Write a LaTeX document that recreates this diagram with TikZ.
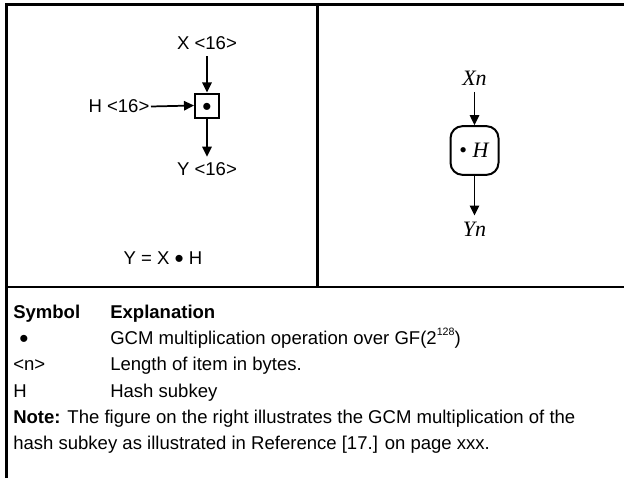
\documentclass[tikz,border=0pt]{standalone}
\usepackage{fontspec}
\setmainfont{Liberation Sans}
\newfontfamily\timesfont{Liberation Serif}
\usetikzlibrary{arrows.meta}

\newcommand\gdot{\raisebox{-2.2pt}{\fontsize{19.5}{19.5}\selectfont •}}
\newcommand\boxdot{\raisebox{-7.6pt}[3pt][3pt]{\fontsize{19.5}{19.5}\selectfont •}}
\newcommand\smallsup[1]{\raisebox{6.5pt}{\fontsize{8}{8}\selectfont #1}}

\tikzset{
  lbl/.style={inner xsep=1pt, inner ysep=4.5pt, font=\fontsize{13.9}{16}\selectfont},
  mathlbl/.style={inner xsep=1pt, inner ysep=4.5pt, font=\timesfont\itshape\fontsize{16.5}{18}\selectfont},
  legend/.style={anchor=base west, inner sep=0pt, font=\fontsize{13.9}{16}\selectfont},
  flow/.style={-{Triangle[length=7.5pt,width=7pt]}, line width=1.3pt},
  frame/.style={line width=1.6pt},
}

\begin{document}
\begin{tikzpicture}[x=0.75pt, y=-0.75pt]
\useasboundingbox (0,0) rectangle (624,478);

% frame
\draw[frame] (6.5,478) -- (6.5,4.5) -- (624,4.5);
\draw[frame] (317.5,4.5) -- (317.5,287);
\draw[frame] (6.5,287) -- (624,287);

% left figure
\node[lbl] (xl) at (207,43.5) {X <16>};
\node[draw, line width=1.5pt, minimum size=18pt, inner sep=0pt] (mulbox) at (207,105.5) {\boxdot};
\node[lbl] (hl) at (119,106.5) {H <16>};
\node[lbl] (yl) at (207,169.5) {Y <16>};
\draw[flow] (xl.south) -- (mulbox.north);
\draw[flow] (hl.east) -- (mulbox.west);
\draw[flow] (mulbox.south) -- (yl.north);

\node[lbl] (eqn) at (163,259.5) {Y = X \gdot{} H};

% right figure
\node[mathlbl] (xn) at (474.5,78.5) {Xn};
\node[draw, line width=1.5pt, rounded corners=9pt, minimum width=36pt, minimum height=36.5pt,
  font=\timesfont\fontsize{16.5}{18}\selectfont] (hbox) at (474.5,150.5) {• \textit{H}};
\node[mathlbl] (yn) at (474.5,229) {Yn};
\draw[flow] (xn.south) -- (hbox.north);
\draw[flow] (hbox.south) -- (yn.north);

% legend
\node[legend] (symhead) at (13,318) {\bfseries Symbol};
\node[legend] (exphead) at (110,318) {\bfseries Explanation};
\node[legend] (sym1) at (19,344.5) {\gdot};
\node[legend] (exp1) at (110,344.5) {GCM multiplication operation over GF(2\smallsup{128})};
\node[legend] (sym2) at (13,370.5) {<n>};
\node[legend] (exp2) at (110,370.5) {Length of item in bytes.};
\node[legend] (sym3) at (13,397) {H};
\node[legend] (exp3) at (110,397) {Hash subkey};
\node[legend] (note1) at (13,423) {\textbf{Note:} The figure on the right illustrates the GCM multiplication of the};
\node[legend] (note2) at (13,449.5) {hash subkey as illustrated in Reference [17.] on page xxx.};

\end{tikzpicture}
\end{document}
